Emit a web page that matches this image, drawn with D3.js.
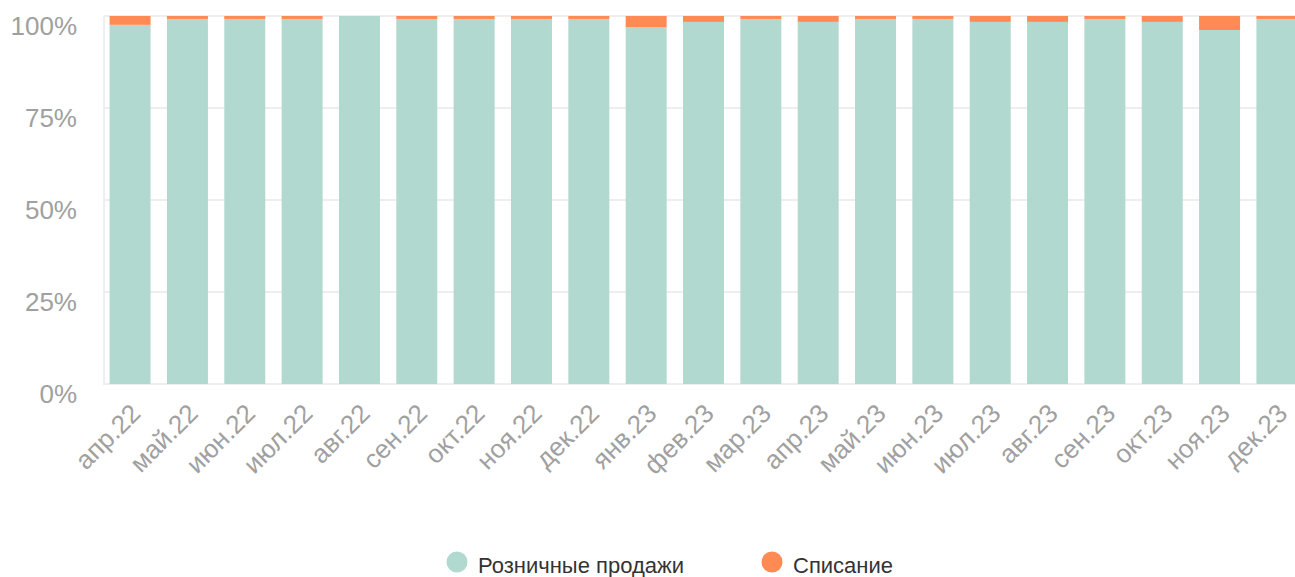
<!DOCTYPE html>
<html>
<head>
<meta charset="utf-8">
<script src="https://cdn.jsdelivr.net/npm/d3@7"></script>
<style>
  html, body { margin: 0; padding: 0; background: #fff; }
  svg { display: block; font-family: "Liberation Sans", Helvetica, Arial, sans-serif; }
</style>
</head>
<body>
<div id="chart"></div>
<script>
// months on the x axis
var months = ["апр.22", "май.22", "июн.22", "июл.22", "авг.22", "сен.22", "окт.22", "ноя.22", "дек.22",
              "янв.23", "фев.23", "мар.23", "апр.23", "май.23", "июн.23", "июл.23", "авг.23", "сен.23",
              "окт.23", "ноя.23", "дек.23"];
// share of write-offs, %
var writeOff = [2.4, 0.8, 0.8, 0.8, 0, 0.8, 0.8, 0.8, 0.8,
                3.0, 1.6, 0.8, 1.6, 0.8, 0.8, 1.6, 1.6, 0.8,
                1.6, 3.8, 0.8];
// share of retail sales, %
var retail = writeOff.map(function(d) { return 100 - d; });
var seriesNames = ["Розничные продажи", "Списание"];
var seriesColors = ["#b2d9d0", "#ff8a54"];
var yTicks = [0, 25, 50, 75, 100];

var width = 1295, height = 577;
var plotLeft = 104, plotRight = 1302, plotTop = 16, plotBottom = 384;

var svg = d3.select("#chart").append("svg")
    .attr("width", width)
    .attr("height", height);

var x = d3.scaleBand()
    .domain(months)
    .range([plotLeft + 1, plotRight])
    .paddingInner(0.285)
    .paddingOuter(0.08);

var y = d3.scaleLinear()
    .domain([0, 100])
    .range([plotBottom, plotTop]);

// grid lines
svg.append("g")
    .selectAll("line")
    .data(yTicks)
    .join("line")
    .attr("x1", plotLeft)
    .attr("x2", width)
    .attr("y1", function(d) { return y(d); })
    .attr("y2", function(d) { return y(d); })
    .attr("stroke", "#eeeeee")
    .attr("stroke-width", 2);

// left axis line
svg.append("line")
    .attr("x1", plotLeft).attr("x2", plotLeft)
    .attr("y1", plotTop).attr("y2", plotBottom + 1)
    .attr("stroke", "#eeeeee")
    .attr("stroke-width", 2);

// y labels
svg.append("g")
    .selectAll("text")
    .data(yTicks)
    .join("text")
    .attr("x", 77)
    .attr("y", function(d) { return y(d) + 19; })
    .attr("text-anchor", "end")
    .attr("font-size", 26)
    .attr("fill", "#a0a0a0")
    .text(function(d) { return d + "%"; });

// stacked bars
var rows = months.map(function(m, i) { return { month: m, retail: retail[i], writeOff: writeOff[i] }; });
var stack = d3.stack().keys(["retail", "writeOff"])(rows);

svg.append("g")
    .selectAll("g")
    .data(stack)
    .join("g")
    .attr("fill", function(d, i) { return seriesColors[i]; })
    .selectAll("rect")
    .data(function(d) { return d; })
    .join("rect")
    .attr("x", function(d) { return x(d.data.month); })
    .attr("width", x.bandwidth())
    .attr("y", function(d) { return y(d[1]); })
    .attr("height", function(d) { return y(d[0]) - y(d[1]); });

// x labels, rotated
svg.append("g")
    .selectAll("text")
    .data(months)
    .join("text")
    .attr("transform", function(d) {
        return "translate(" + (x(d) + x.bandwidth() / 2 + 12) + "," + (plotBottom + 31) + ") rotate(-45)";
    })
    .attr("text-anchor", "end")
    .attr("font-size", 26)
    .attr("fill", "#a0a0a0")
    .text(function(d) { return d; });

// legend
var legendX = [457, 772];
var legend = svg.append("g")
    .selectAll("g")
    .data(seriesNames)
    .join("g")
    .attr("transform", function(d, i) { return "translate(" + legendX[i] + ",562)"; });
legend.append("circle")
    .attr("r", 10.5)
    .attr("fill", function(d, i) { return seriesColors[i]; });
legend.append("text")
    .attr("x", 21)
    .attr("y", 11)
    .attr("font-size", 22)
    .attr("fill", "#333333")
    .text(function(d) { return d; });
</script>
</body>
</html>
